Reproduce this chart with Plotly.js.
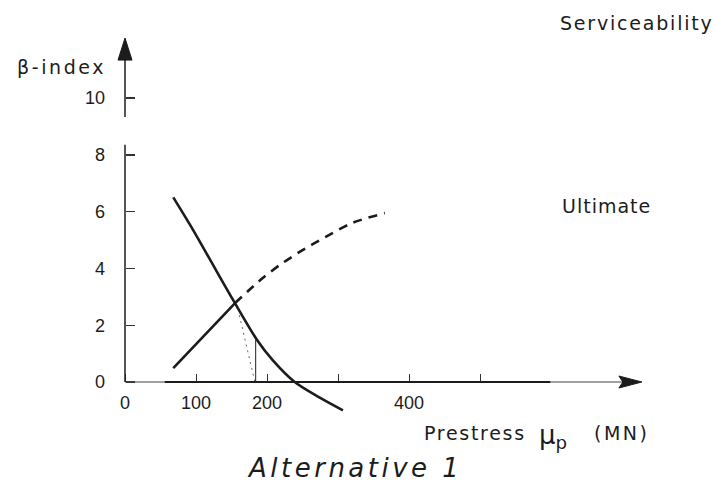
<!DOCTYPE html>
<html>
<head>
<meta charset="utf-8">
<script src="https://cdn.plot.ly/plotly-3.0.1.min.js"></script>
<style>html,body{margin:0;padding:0;background:#fff;}</style>
</head>
<body>
<div id="chart" style="width:713px;height:487px;"></div>
<script>
// ---- data ----
const xTickVals = [0, 100, 200, 400];
const xTickText = ['0', '100', '200', '400'];
const xMinorTickVals = [300, 500];
const yTickVals = [0, 2, 4, 6, 8, 10];
const yTickText = ['0', '2', '4', '6', '8', '10'];

// Decreasing solid curve
const decX = [68, 96, 120, 152, 186, 208, 239, 275, 307];
const decY = [6.5, 5.35, 4.3, 2.9, 1.48, 0.77, 0, -0.56, -1.0];

// Increasing curve: solid part up to the intersection
const incSolidX = [68, 155];
const incSolidY = [0.49, 2.78];

// Increasing curve: dashed continuation
const incDashX = [155, 194, 218, 246, 282, 320, 366];
const incDashY = [2.78, 3.66, 4.12, 4.58, 5.1, 5.6, 5.95];

// Thin reference lines under the intersection
const refX = [184, 184];
const refY = [0, 1.5];
const dotX = [161, 183];
const dotY = [2.35, 0];

// axis extents (data units)
const xAxisEnd = 728;
const yLowerTop = 8.35, yUpperBottom = 9.33, yAxisEnd = 12.11;

const ink = '#1c1c1c';
const W = 713, H = 487;

const traces = [
  {x: decX, y: decY, mode: 'lines', line: {color: ink, width: 2.6, shape: 'spline', smoothing: 0.8}, hoverinfo: 'skip'},
  {x: incSolidX, y: incSolidY, mode: 'lines', line: {color: ink, width: 2.6}, hoverinfo: 'skip'},
  {x: incDashX, y: incDashY, mode: 'lines', line: {color: ink, width: 2.6, dash: '9px,7px', shape: 'spline', smoothing: 0.8}, hoverinfo: 'skip'},
  {x: refX, y: refY, mode: 'lines', line: {color: '#333', width: 1.1}, hoverinfo: 'skip'},
  {x: dotX, y: dotY, mode: 'lines', line: {color: '#666', width: 1, dash: '2px,4px'}, hoverinfo: 'skip'}
];

const px = v => v / W;
const py = v => 1 - v / H;
const lsp = (t, s) => '<span style="letter-spacing:' + s + 'px">' + t + '</span>';
const lblFont = {family: 'DejaVu Sans', size: 19, color: ink};

const layout = {
  width: W, height: H,
  margin: {l: 0, r: 0, t: 0, b: 0},
  paper_bgcolor: '#fff', plot_bgcolor: '#fff',
  showlegend: false,
  xaxis: {
    range: [-176.06, 828.17], anchor: 'free', position: 105 / H,
    showgrid: false, zeroline: false, showline: false,
    tickmode: 'array', tickvals: xTickVals, ticktext: xTickText,
    ticks: 'inside', ticklen: 8, tickwidth: 1, tickcolor: '#333',
    ticklabelstandoff: 8,
    tickfont: {family: 'Liberation Sans', size: 18, color: ink},
    minor: {tickmode: 'array', tickvals: xMinorTickVals, ticks: 'inside', ticklen: 8, tickwidth: 1, tickcolor: '#333', showgrid: false},
    fixedrange: true
  },
  yaxis: {
    range: [-3.697, 13.451], anchor: 'free', position: 125 / W,
    showgrid: false, zeroline: false, showline: false,
    tickmode: 'array', tickvals: yTickVals, ticktext: yTickText,
    ticks: 'inside', ticklen: 9, tickwidth: 1.4, tickcolor: '#333',
    ticklabelstandoff: 20,
    tickfont: {family: 'Liberation Sans', size: 18, color: ink},
    fixedrange: true
  },
  shapes: [
    // x axis line (thin full, thicker middle part like the print)
    {type: 'line', xref: 'x', yref: 'y', x0: 0, y0: 0, x1: xAxisEnd - 20, y1: 0, line: {color: '#444', width: 1.2}},
    {type: 'line', xref: 'x', yref: 'y', x0: 56, y0: 0, x1: 599, y1: 0, line: {color: ink, width: 2}},
    // x arrowhead
    {type: 'path', xref: 'x', yref: 'y', xsizemode: 'pixel', ysizemode: 'pixel', xanchor: xAxisEnd, yanchor: 0,
     path: 'M0,0 L-23,6 L-19,0 L-23,-6 Z', fillcolor: ink, line: {color: ink, width: 1}},
    // y axis, broken
    {type: 'line', xref: 'x', yref: 'y', x0: 0, y0: 0, x1: 0, y1: yLowerTop, line: {color: ink, width: 1.5}},
    {type: 'line', xref: 'x', yref: 'y', x0: 0, y0: yUpperBottom, x1: 0, y1: yAxisEnd - 0.6, line: {color: ink, width: 1.5}},
    // y arrowhead
    {type: 'path', xref: 'x', yref: 'y', xsizemode: 'pixel', ysizemode: 'pixel', xanchor: 0, yanchor: yAxisEnd,
     path: 'M0,0 L-7,-22 L7,-22 Z', fillcolor: ink, line: {color: ink, width: 1}}
  ],
  annotations: [
    {xref: 'paper', yref: 'paper', x: px(15), y: py(67), xanchor: 'left', yanchor: 'middle', showarrow: false,
     text: lsp('β-index', 2.6), font: lblFont},
    {xref: 'paper', yref: 'paper', x: px(558), y: py(23.5), xanchor: 'left', yanchor: 'middle', showarrow: false,
     text: lsp('Serviceability', 1.8), font: lblFont},
    {xref: 'paper', yref: 'paper', x: px(560), y: py(205.5), xanchor: 'left', yanchor: 'middle', showarrow: false,
     text: lsp('Ultimate', 1), font: lblFont},
    {xref: 'paper', yref: 'paper', x: px(422), y: py(432.5), xanchor: 'left', yanchor: 'middle', showarrow: false,
     text: lsp('Prestress', 1.7), font: lblFont},
    {xref: 'paper', yref: 'paper', x: px(537), y: py(436), xanchor: 'left', yanchor: 'middle', showarrow: false,
     text: 'μ<sub>p</sub>', font: {family: 'DejaVu Sans', size: 26, color: ink}},
    {xref: 'paper', yref: 'paper', x: px(592), y: py(433), xanchor: 'left', yanchor: 'middle', showarrow: false,
     text: lsp('(MN)', 2.5), font: lblFont},
    {xref: 'paper', yref: 'paper', x: px(245), y: py(467.5), xanchor: 'left', yanchor: 'middle', showarrow: false,
     text: lsp('Alternative 1', 3.5), font: {family: 'DejaVu Sans', size: 26, color: ink, style: 'italic'}}
  ]
};

Plotly.newPlot('chart', traces, layout, {staticPlot: true, displayModeBar: false});
</script>
</body>
</html>
